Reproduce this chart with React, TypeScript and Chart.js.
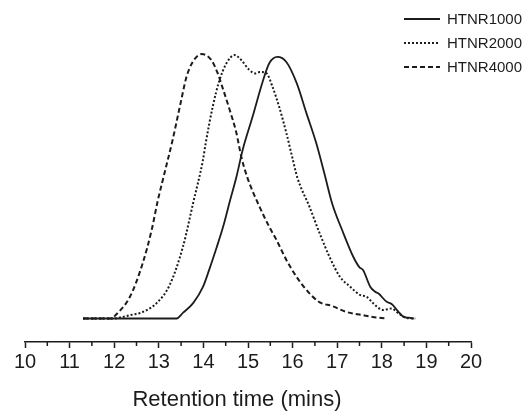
import React, { useEffect, useRef } from 'react';
import { Chart, registerables } from 'chart.js';

Chart.register(...registerables);

// GPC traces: retention time (min) vs. normalised detector response
const SERIES_NAMES = ['HTNR1000', 'HTNR2000', 'HTNR4000'];

const rt1000 = [11.3, 13.4, 13.54, 13.77, 13.99, 14.15, 14.3, 14.44, 14.6, 14.74, 14.88, 15.1, 15.32, 15.48, 15.66, 15.86, 16.09, 16.31, 16.53, 16.71, 16.89, 17.11, 17.36, 17.5, 17.58, 17.74, 17.85, 17.92, 18.11, 18.22, 18.37, 18.48, 18.6, 18.72];
const sig1000 = [0, 0, 2.1, 5.8, 11.9, 19.4, 27.0, 34.5, 44.7, 53.4, 63.6, 76.0, 88.9, 96.4, 98.7, 96.8, 88.9, 77.5, 66.2, 54.9, 43.2, 33.4, 23.3, 19.3, 18.3, 12.0, 10.1, 9.5, 6.3, 5.5, 2.6, 0.7, 0.3, 0];

const rt2000 = [11.3, 12.0, 12.19, 12.42, 12.62, 12.95, 13.24, 13.54, 13.77, 13.99, 14.05, 14.21, 14.36, 14.52, 14.7, 14.85, 15.03, 15.17, 15.26, 15.41, 15.55, 15.7, 15.86, 15.99, 16.11, 16.38, 16.61, 16.84, 17.06, 17.29, 17.51, 17.66, 17.81, 18.03, 18.22, 18.37, 18.56, 18.75];
const sig2000 = [0, 0, 0.6, 1.5, 2.3, 5.8, 12.5, 27.0, 43.6, 59.8, 66.0, 80.0, 89.9, 96.4, 99.4, 97.5, 93.8, 92.5, 93.0, 92.6, 87.4, 79.8, 70.0, 61.0, 53.0, 42.1, 32.0, 22.8, 15.8, 12.0, 8.9, 8.2, 5.7, 3.2, 3.8, 2.0, 0.2, 0];

const rt4000 = [11.3, 11.95, 12.01, 12.35, 12.64, 12.84, 12.98, 13.09, 13.31, 13.47, 13.62, 13.76, 13.96, 14.18, 14.32, 14.41, 14.59, 14.74, 14.85, 14.99, 15.26, 15.48, 15.64, 15.86, 16.09, 16.31, 16.6, 16.89, 17.2, 17.56, 17.79, 18.1];
const sig4000 = [0, 0, 0.9, 8.1, 20.9, 33.4, 44.7, 52.3, 67.4, 79.8, 91.1, 96.8, 99.8, 97.5, 92.6, 88.1, 78.7, 70.0, 61.0, 53.0, 42.1, 34.5, 29.6, 22.1, 15.7, 10.8, 6.2, 4.7, 2.5, 1.3, 0.6, 0];

const X_MIN = 10;
const X_MAX = 20;
const X_STEP = 1;
const Y_MIN = -8.87;
const Y_MAX = 108.87;
const X_TITLE = 'Retention time (mins)';

const INK = '#1c1c1c';
const FONT_FAMILY = '"Liberation Sans", Arial, Helvetica, sans-serif';

const toPoints = (xs: number[], ys: number[]) => xs.map((x, i) => ({ x, y: ys[i] }));

// Half-step minor ticks hanging under the x-axis line
const minorTicks = {
  id: 'minorTicks',
  afterDraw(chart: any) {
    const scale = chart.scales.x;
    const ticks = scale.ticks;
    const ctx = chart.ctx;
    ctx.save();
    ctx.strokeStyle = INK;
    ctx.lineWidth = 1.5;
    for (let i = 0; i < ticks.length - 1; i++) {
      const mid = (ticks[i].value + ticks[i + 1].value) / 2;
      const px = scale.getPixelForValue(mid);
      ctx.beginPath();
      ctx.moveTo(px, scale.top);
      ctx.lineTo(px, scale.top + 4);
      ctx.stroke();
    }
    ctx.restore();
  },
};

// Axis caption under the tick labels
const axisCaption = {
  id: 'axisCaption',
  afterDraw(chart: any) {
    const { ctx, chartArea } = chart;
    ctx.save();
    ctx.fillStyle = INK;
    ctx.font = `22px ${FONT_FAMILY}`;
    ctx.textAlign = 'center';
    ctx.textBaseline = 'middle';
    ctx.fillText(X_TITLE, (chartArea.left + chartArea.right) / 2 - 11, 400);
    ctx.restore();
  },
};

// Line-sample legend in the top-right corner
const cornerLegend = {
  id: 'cornerLegend',
  afterDraw(chart: any) {
    const ctx = chart.ctx;
    const x0 = chart.width - 122;
    ctx.save();
    chart.data.datasets.forEach((ds: any, i: number) => {
      const y = 19 + i * 24;
      ctx.beginPath();
      ctx.setLineDash(ds.borderDash || []);
      ctx.lineWidth = ds.borderWidth;
      ctx.strokeStyle = ds.borderColor;
      ctx.moveTo(x0, y);
      ctx.lineTo(x0 + 36, y);
      ctx.stroke();
      ctx.setLineDash([]);
      ctx.fillStyle = INK;
      ctx.font = `15px ${FONT_FAMILY}`;
      ctx.textAlign = 'left';
      ctx.textBaseline = 'middle';
      ctx.fillText(ds.label, x0 + 43, y + 1);
    });
    ctx.restore();
  },
};

export default function App() {
  const canvasRef = useRef<HTMLCanvasElement | null>(null);

  useEffect(() => {
    const canvas = canvasRef.current;
    if (!canvas) return;
    const lineBase = {
      borderColor: INK,
      pointRadius: 0,
      fill: false,
      cubicInterpolationMode: 'monotone' as const,
    };
    const chart = new Chart(canvas, {
      type: 'line',
      data: {
        datasets: [
          { ...lineBase, label: SERIES_NAMES[0], data: toPoints(rt1000, sig1000), borderWidth: 1.8, borderDash: [] },
          { ...lineBase, label: SERIES_NAMES[1], data: toPoints(rt2000, sig2000), borderWidth: 2, borderDash: [2, 2] },
          { ...lineBase, label: SERIES_NAMES[2], data: toPoints(rt4000, sig4000), borderWidth: 2, borderDash: [5, 3] },
        ],
      },
      options: {
        animation: false,
        responsive: false,
        layout: { padding: { left: 25, right: 55, top: 30, bottom: 0 } },
        plugins: { legend: { display: false }, tooltip: { enabled: false } },
        scales: {
          x: {
            type: 'linear',
            min: X_MIN,
            max: X_MAX,
            ticks: {
              stepSize: X_STEP,
              color: INK,
              padding: 2,
              font: { size: 20, family: FONT_FAMILY },
              maxRotation: 0,
            },
            grid: {
              display: true,
              drawOnChartArea: false,
              drawTicks: true,
              tickLength: 6,
              tickWidth: 1.5,
              tickColor: INK,
            },
            border: { display: true, color: INK, width: 1.5 },
            afterFit: (scale: any) => {
              scale.height = 69;
            },
          },
          y: {
            type: 'linear',
            display: false,
            min: Y_MIN,
            max: Y_MAX,
          },
        },
      },
      plugins: [minorTicks, axisCaption, cornerLegend],
    });
    return () => chart.destroy();
  }, []);

  return (
    <div style={{ position: 'absolute', left: 0, top: 0, width: 526, height: 411, background: '#fff' }}>
      <canvas ref={canvasRef} width={526} height={411} style={{ display: 'block' }} />
    </div>
  );
}
